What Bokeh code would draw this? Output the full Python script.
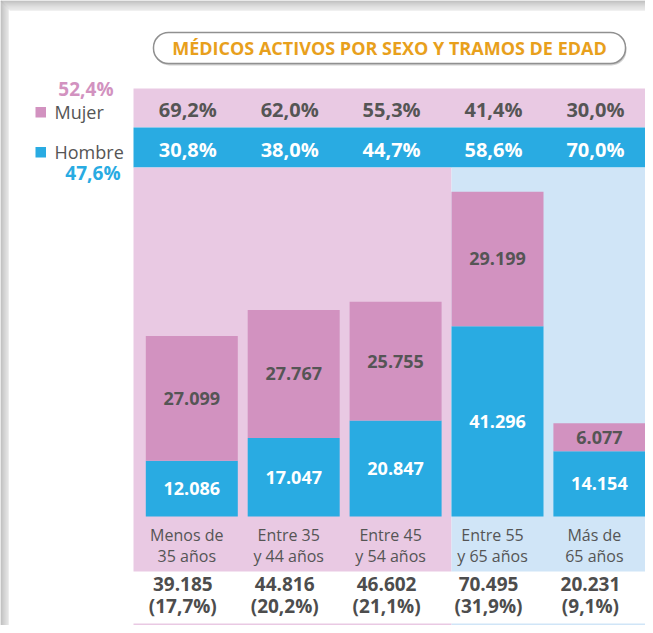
from bokeh.plotting import figure
from bokeh.models import Range1d
from bokeh.core.properties import value
from bokeh.embed import file_html
from bokeh.resources import INLINE

# ---------------- data ----------------
title_text = "MÉDICOS ACTIVOS POR SEXO Y TRAMOS DE EDAD"
cat_line1 = ["Menos de", "Entre 35", "Entre 45", "Entre 55", "Más de"]
cat_line2 = ["35 años", "y 44 años", "y 54 años", "y 65 años", "65 años"]
mujer = [27099, 27767, 25755, 29199, 6077]
hombre = [12086, 17047, 20847, 41296, 14154]
totales = [39185, 44816, 46602, 70495, 20231]
pct_totales = ["17,7%", "20,2%", "21,1%", "31,9%", "9,1%"]
pct_mujer = ["69,2%", "62,0%", "55,3%", "41,4%", "30,0%"]
pct_hombre = ["30,8%", "38,0%", "44,7%", "58,6%", "70,0%"]
legend_labels = ["Mujer", "Hombre"]
legend_pct = ["52,4%", "47,6%"]

# ---------------- style ----------------
PINK = "#D292C0"
BLUE = "#29ABE2"
PINK_BG = "#E9C9E3"
BLUE_BG = "#D0E5F7"
DARK = "#555555"
TITLE_C = "#E8A01C"
FONT = value("Open Sans")

W, H = 645, 625
OFF = 0
X0 = 191.3       # screen x of first bar centre
PITCH = 101.9
BASE = 516       # screen y of zero
UPP = 217.0      # value units per pixel

x_start = -(X0 - OFF) / PITCH
x_end = x_start + W / PITCH
y_start = -(H - (BASE - OFF)) * UPP
y_end = y_start + H * UPP


def sx(px):
    return x_start + (px - OFF) / PITCH


def sy(py):
    return y_end - (py - OFF) * UPP


def fmt(v):
    return f"{v:,}".replace(",", ".")


idx = list(range(len(mujer)))
tops = [h + m for h, m in zip(hombre, mujer)]

p = figure(width=W, height=H, output_backend="svg", toolbar_location=None,
           x_range=Range1d(x_start, x_end), y_range=Range1d(y_start, y_end),
           min_border=0, background_fill_color="white", border_fill_color="white")
p.axis.visible = False
p.grid.visible = False
p.outline_line_color = None

# frame shadow (top and left)
shades = ["#a9a9a9", "#b1b1b1", "#b9b9b9", "#c1c1c1", "#c8c8c8", "#cfcfcf", "#d5d5d5", "#dadada", "#dedede", "#e2e2e2"]
for k, c in enumerate(shades):
    p.quad(left=[sx(k)], right=[sx(660)], top=[sy(k)], bottom=[sy(k + 1)], fill_color=c, line_color=None)
for k, c in enumerate(shades[:8]):
    p.quad(left=[sx(k)], right=[sx(k + 1)], top=[sy(k)], bottom=[sy(640)], fill_color=c, line_color=None)

# backgrounds
p.quad(left=[sx(133)], right=[sx(647)], top=[sy(88)], bottom=[sy(127)], fill_color=PINK_BG, line_color=None)
p.quad(left=[sx(133)], right=[sx(647)], top=[sy(127)], bottom=[sy(167)], fill_color=BLUE, line_color=None)
p.quad(left=[sx(133)], right=[sx(451)], top=[sy(167)], bottom=[sy(571)], fill_color=PINK_BG, line_color=None)
p.quad(left=[sx(451)], right=[sx(647)], top=[sy(167)], bottom=[sy(571)], fill_color=BLUE_BG, line_color=None)
p.quad(left=[sx(133)], right=[sx(451)], top=[sy(623)], bottom=[sy(625)], fill_color=PINK_BG, line_color=None)
p.quad(left=[sx(451)], right=[sx(647)], top=[sy(623)], bottom=[sy(625)], fill_color=BLUE_BG, line_color=None)

# title box
p.quad(left=[sx(154)], right=[sx(626)], top=[sy(34)], bottom=[sy(65)], fill_color="#d0d0d0", line_color=None,
       border_radius=15)
p.quad(left=[sx(153)], right=[sx(625)], top=[sy(32)], bottom=[sy(63)], fill_color="white", line_color="#909090",
       line_width=1.5, border_radius=15)
p.text(x=[sx(389)], y=[sy(47.5)], text=[title_text], text_font=FONT, text_font_size="18px",
       text_font_style="bold", text_color=TITLE_C, text_align="center", text_baseline="middle")

# bars
BW = 92 / PITCH
p.vbar(x=idx, bottom=0, top=hombre, width=BW, fill_color=BLUE, line_color=None)
p.vbar(x=idx, bottom=hombre, top=tops, width=BW, fill_color=PINK, line_color=None)

# bar labels
p.text(x=idx, y=[h / 2 for h in hombre], text=[fmt(v) for v in hombre], text_font=FONT,
       text_font_size="18px", text_font_style="bold", text_color="white",
       text_align="center", text_baseline="middle")
p.text(x=idx, y=[h + m / 2 for h, m in zip(hombre, mujer)], text=[fmt(v) for v in mujer], text_font=FONT,
       text_font_size="18px", text_font_style="bold", text_color=DARK,
       text_align="center", text_baseline="middle")

# percentage rows
dx = -4 / PITCH
p.text(x=[i + dx for i in idx], y=[sy(109)] * 5, text=pct_mujer, text_font=FONT, text_font_size="20px",
       text_font_style="bold", text_color=DARK, text_align="center", text_baseline="middle")
p.text(x=[i + dx for i in idx], y=[sy(149)] * 5, text=pct_hombre, text_font=FONT, text_font_size="20px",
       text_font_style="bold", text_color="white", text_align="center", text_baseline="middle")

# category labels
dxc = -5 / PITCH
p.text(x=[i + dxc for i in idx], y=[sy(534)] * 5, text=cat_line1, text_font=FONT, text_font_size="16px",
       text_color=DARK, text_align="center", text_baseline="middle")
p.text(x=[i + dxc for i in idx], y=[sy(555)] * 5, text=cat_line2, text_font=FONT, text_font_size="16px",
       text_color=DARK, text_align="center", text_baseline="middle")

# totals
dxt = -9 / PITCH
p.text(x=[i + dxt for i in idx], y=[sy(583)] * 5, text=[fmt(v) for v in totales], text_font=FONT,
       text_font_size="19px", text_font_style="bold", text_color="#4d4d4d", text_align="center",
       text_baseline="middle")
p.text(x=[i + dxt for i in idx], y=[sy(605)] * 5, text=[f"({s})" for s in pct_totales], text_font=FONT,
       text_font_size="19px", text_font_style="bold", text_color="#4d4d4d", text_align="center",
       text_baseline="middle")

# legend
p.quad(left=[sx(35), sx(35)], right=[sx(45.5), sx(45.5)], top=[sy(106.5), sy(146.5)],
       bottom=[sy(117), sy(157)], fill_color=[PINK, BLUE], line_color=None)
p.text(x=[sx(54), sx(54)], y=[sy(111), sy(151)], text=legend_labels, text_font=FONT,
       text_font_size="18px", text_color=DARK, text_align="left", text_baseline="middle")
p.text(x=[sx(113), sx(120)], y=[sy(88), sy(172)], text=legend_pct, text_font=FONT,
       text_font_size="19px", text_font_style="bold", text_color=[PINK, BLUE], text_align="right",
       text_baseline="middle")

open("out.html", "w").write(file_html(p, INLINE))
